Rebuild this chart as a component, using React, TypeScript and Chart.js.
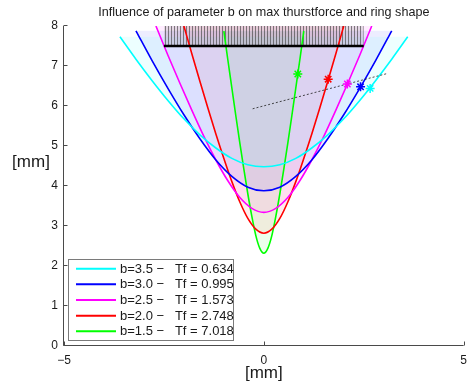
import React, { useEffect, useRef } from 'react';
import { Chart, registerables } from 'chart.js';

Chart.register(...registerables);

// ---------- data ----------
const titleText = 'Influence of parameter b on max thurstforce and ring shape';
const xAxisLabel = '[mm]';
const yAxisLabel = '[mm]';

const bLabels = ['3.5', '3.0', '2.5', '2.0', '1.5'];
const tfValues = ['0.634', '0.995', '1.573', '2.748', '7.018'];
const curveColors = ['#00ffff', '#0000ff', '#ff00ff', '#ff0000', '#00ff00'];
const fillColors = [
  'rgba(0,255,255,0.07)',
  'rgba(0,0,255,0.07)',
  'rgba(255,0,255,0.07)',
  'rgba(255,0,0,0.07)',
  'rgba(0,255,0,0.07)',
];

const cyanX = [-3.6, -3.2, -2.8, -2.4, -2.0, -1.6, -1.2, -0.8, -0.4, 0, 0.4, 0.8, 1.2, 1.6, 2.0, 2.4, 2.8, 3.2, 3.6];
const cyanY = [7.73, 7.17, 6.64, 6.14, 5.68, 5.28, 4.95, 4.69, 4.53, 4.48, 4.53, 4.69, 4.95, 5.28, 5.68, 6.14, 6.64, 7.17, 7.73];

const blueX = [-3.2, -2.8, -2.4, -2.0, -1.6, -1.2, -0.8, -0.4, 0, 0.4, 0.8, 1.2, 1.6, 2.0, 2.4, 2.8, 3.2];
const blueY = [7.88, 7.14, 6.44, 5.78, 5.18, 4.65, 4.24, 3.97, 3.88, 3.97, 4.24, 4.65, 5.18, 5.78, 6.44, 7.14, 7.88];

const magentaX = [-2.7, -2.4, -2.1, -1.8, -1.5, -1.2, -0.9, -0.6, -0.3, 0, 0.3, 0.6, 0.9, 1.2, 1.5, 1.8, 2.1, 2.4, 2.7];
const magentaY = [8.0, 7.27, 6.57, 5.89, 5.24, 4.65, 4.13, 3.71, 3.44, 3.34, 3.44, 3.71, 4.13, 4.65, 5.24, 5.89, 6.57, 7.27, 8.0];

const redX = [-2.0, -1.8, -1.6, -1.4, -1.2, -1.0, -0.8, -0.6, -0.4, -0.2, 0, 0.2, 0.4, 0.6, 0.8, 1.0, 1.2, 1.4, 1.6, 1.8, 2.0];
const redY = [8.0, 7.3, 6.62, 5.95, 5.3, 4.69, 4.11, 3.6, 3.19, 2.92, 2.82, 2.92, 3.19, 3.6, 4.11, 4.69, 5.3, 5.95, 6.62, 7.3, 8.0];

const greenX = [-1.0, -0.9, -0.8, -0.7, -0.6, -0.5, -0.4, -0.3, -0.2, -0.1, 0, 0.1, 0.2, 0.3, 0.4, 0.5, 0.6, 0.7, 0.8, 0.9, 1.0];
const greenY = [7.87, 7.15, 6.45, 5.75, 5.07, 4.42, 3.8, 3.24, 2.76, 2.44, 2.32, 2.44, 2.76, 3.24, 3.8, 4.42, 5.07, 5.75, 6.45, 7.15, 7.87];

const markerX = [0.85, 1.61, 2.09, 2.42, 2.66];
const markerY = [6.8, 6.67, 6.55, 6.48, 6.44];
const markerColors = ['#00ff00', '#ff0000', '#ff00ff', '#0000ff', '#00ffff'];

const trendX = [-0.28, 3.08];
const trendY = [5.93, 6.81];

const hatchX = [-2.5, 2.5];
const hatchTop = 8;
const hatchBottom = 7.5;

const xTicks = [-5, 0, 5];
const yTicks = [0, 1, 2, 3, 4, 5, 6, 7, 8];

const curvesX = [cyanX, blueX, magentaX, redX, greenX];
const curvesY = [cyanY, blueY, magentaY, redY, greenY];

const FONT = '"Liberation Sans", Arial, Helvetica, sans-serif';

const toPts = (xs: number[], ys: number[]) => xs.map((x, i) => ({ x, y: ys[i] }));

const decorPlugin = {
  id: 'decor',
  afterDraw(chart: any) {
    const { ctx, chartArea: ca, scales } = chart;
    const xs = scales.x;
    const ys = scales.y;
    ctx.save();
    // axes
    const ax = Math.floor(ca.left) - 0.5;
    const ay = Math.floor(ca.bottom) - 0.5;
    ctx.strokeStyle = '#4a4a4a';
    ctx.lineWidth = 1;
    ctx.beginPath();
    ctx.moveTo(ax, ca.top);
    ctx.lineTo(ax, ay);
    ctx.lineTo(ca.right, ay);
    ctx.stroke();
    // inward ticks
    ctx.beginPath();
    yTicks.forEach((v) => {
      const py = Math.round(ys.getPixelForValue(v)) - 0.5;
      ctx.moveTo(ax, py);
      ctx.lineTo(ax + 4, py);
    });
    xTicks.forEach((v) => {
      const px = Math.round(xs.getPixelForValue(v)) + 0.5;
      ctx.moveTo(px, ay);
      ctx.lineTo(px, ay - 4);
    });
    ctx.stroke();

    // title
    ctx.fillStyle = '#1a1a1a';
    ctx.font = `12.6px ${FONT}`;
    ctx.textAlign = 'center';
    ctx.textBaseline = 'alphabetic';
    ctx.fillText(titleText, (ca.left + ca.right) / 2, 16);

    // axis labels
    ctx.font = `17px ${FONT}`;
    ctx.fillText(xAxisLabel, (ca.left + ca.right) / 2, 378);
    ctx.fillText(yAxisLabel, 31, 167);

    // legend
    const lx = 68.5, ly = 259.5, lw = 165, lh = 81;
    ctx.fillStyle = '#ffffff';
    ctx.fillRect(lx, ly, lw, lh);
    ctx.strokeStyle = '#7a7a7a';
    ctx.strokeRect(lx, ly, lw, lh);
    ctx.font = `13px ${FONT}`;
    ctx.textAlign = 'left';
    ctx.textBaseline = 'middle';
    bLabels.forEach((b, i) => {
      const ry = 268.7 + i * 15.65;
      ctx.strokeStyle = curveColors[i];
      ctx.lineWidth = 2;
      ctx.beginPath();
      ctx.moveTo(76, ry);
      ctx.lineTo(116, ry);
      ctx.stroke();
      ctx.fillStyle = '#1a1a1a';
      ctx.fillText(`b=${b} \u2212   Tf = ${tfValues[i]}`, 120, ry + 0.5);
    });
    ctx.restore();
  },
};

export default function App() {
  const ref = useRef<HTMLCanvasElement>(null);

  useEffect(() => {
    const canvas = ref.current;
    if (!canvas) return;
    const pc = document.createElement('canvas');
    pc.width = 3;
    pc.height = 1;
    const pctx = pc.getContext('2d')!;
    pctx.fillStyle = 'rgba(130,130,130,0.22)';
    pctx.fillRect(1, 0, 2, 1);
    pctx.fillStyle = 'rgba(80,80,80,0.75)';
    pctx.fillRect(0, 0, 1, 1);
    const pattern = canvas.getContext('2d')!.createPattern(pc, 'repeat');

    const curveSets = curvesX.map((xs, i) => ({
      label: `b=${bLabels[i]}`,
      data: toPts(xs, curvesY[i]),
      borderColor: curveColors[i],
      backgroundColor: fillColors[i],
      borderWidth: 1.6,
      pointRadius: 0,
      cubicInterpolationMode: 'monotone' as const,
      fill: { value: curvesY[i][0] },
      order: 10 + i,
    }));

    const chart = new Chart(canvas, {
      type: 'line',
      data: {
        datasets: [
          ...curveSets,
          {
            label: 'hatch',
            data: toPts(hatchX, [hatchTop, hatchTop]),
            borderWidth: 0,
            borderColor: 'rgba(0,0,0,0)',
            backgroundColor: pattern as any,
            pointRadius: 0,
            fill: { value: hatchBottom },
            order: 5,
          },
          {
            label: 'bar',
            data: toPts(hatchX, [hatchBottom, hatchBottom]),
            borderColor: '#000000',
            borderWidth: 2.6,
            pointRadius: 0,
            fill: false,
            order: 3,
          },
          {
            label: 'trend',
            data: toPts(trendX, trendY),
            borderColor: 'rgba(30,30,30,0.8)',
            borderWidth: 1,
            borderDash: [2, 2],
            pointRadius: 0,
            fill: false,
            order: 2,
          },
          {
            label: 'markers',
            data: toPts(markerX, markerY),
            showLine: false,
            pointStyle: 'star',
            pointRadius: 4.5,
            pointBorderWidth: 1.5,
            pointBorderColor: markerColors,
            pointBackgroundColor: markerColors,
            fill: false,
            order: 1,
          },
        ] as any,
      },
      options: {
        animation: false,
        responsive: false,
        devicePixelRatio: 1,
        layout: { padding: { left: 0, right: 9, top: 26, bottom: 0 } },
        plugins: {
          legend: { display: false },
          title: { display: false },
          tooltip: { enabled: false },
          filler: { drawTime: 'beforeDatasetsDraw' },
        } as any,
        scales: {
          x: {
            type: 'linear',
            min: -5,
            max: 5,
            grid: { display: false, drawTicks: false },
            border: { display: false },
            ticks: {
              stepSize: 5,
              padding: 7,
              autoSkip: false,
              maxRotation: 0,
              color: '#1a1a1a',
              font: { family: FONT, size: 12 },
              callback: (v: any) => (Number(v) < 0 ? '\u2212' + Math.abs(Number(v)) : String(v)),
            },
            afterFit: (s: any) => {
              s.height = 44;
            },
          },
          y: {
            type: 'linear',
            min: 0,
            max: 8,
            grid: { display: false, drawTicks: false },
            border: { display: false },
            ticks: {
              stepSize: 1,
              padding: 6,
              color: '#1a1a1a',
              font: { family: FONT, size: 12 },
            },
            afterFit: (s: any) => {
              s.width = 64;
            },
          },
        },
      },
      plugins: [decorPlugin],
    });
    return () => chart.destroy();
  }, []);

  return (
    <div style={{ position: 'absolute', left: 0, top: 0, width: 474, height: 390, background: '#ffffff' }}>
      <canvas ref={ref} width={474} height={390} style={{ display: 'block' }} />
    </div>
  );
}
